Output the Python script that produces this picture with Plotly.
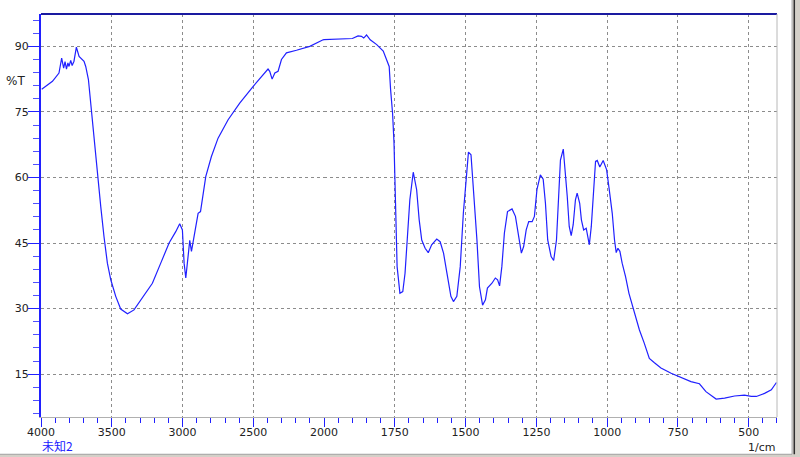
import plotly.graph_objects as go

# wavenumber (1/cm) and transmittance (%T)
wavenumber = [3995, 3919, 3873, 3854, 3840, 3830, 3820, 3810, 3802, 3790, 3780, 3767, 3750, 3731,
              3696, 3684, 3665, 3654, 3637, 3618, 3601, 3578, 3555, 3531, 3507, 3472, 3437, 3389,
              3343, 3283, 3213, 3154, 3095, 3048, 3020, 3001, 2989, 2977, 2961, 2949, 2937, 2914,
              2890, 2873, 2855, 2836, 2796, 2749, 2678, 2596, 2502, 2442, 2396, 2384, 2367, 2348,
              2325, 2301, 2266, 2195, 2101, 2007, 1933, 1900, 1880, 1868, 1860, 1850, 1837, 1814,
              1791, 1779, 1770, 1765, 1758, 1753, 1750, 1746, 1742, 1732, 1722, 1714, 1706, 1697,
              1685, 1673, 1664, 1655, 1643, 1632, 1620, 1602, 1590, 1578, 1566, 1552, 1543, 1531,
              1519, 1508, 1498, 1490, 1481, 1472, 1460, 1451, 1440, 1430, 1423, 1407, 1395, 1387,
              1380, 1372, 1363, 1352, 1336, 1324, 1312, 1303, 1295, 1286, 1277, 1265, 1257, 1248,
              1236, 1226, 1218, 1210, 1198, 1189, 1179, 1171, 1165, 1155, 1151, 1141, 1134, 1127,
              1120, 1112, 1106, 1097, 1091, 1083, 1074, 1069, 1063, 1056, 1049, 1041, 1035, 1026,
              1014, 1002, 994, 982, 974, 968, 962, 955, 947, 935, 923, 904, 886, 869, 851, 833,
              810, 774, 745, 704, 674, 651, 615, 585, 550, 515, 491, 473, 444, 420, 402]
transmittance = [80.2, 82.0, 83.9, 87.3, 85.0, 86.5, 84.8, 86.2, 85.4, 86.8, 85.6, 86.6, 89.8, 87.7,
                 86.6, 85.4, 82.4, 78.6, 72.5, 66.3, 60.0, 53.4, 46.5, 40.4, 36.6, 32.8, 29.9, 28.8,
                 29.7, 32.4, 35.8, 40.4, 45.0, 47.6, 49.4, 48.0, 40.4, 37.0, 41.9, 45.6, 43.1, 47.3,
                 51.8, 52.2, 56.4, 60.2, 64.8, 69.0, 73.2, 77.0, 80.8, 83.1, 84.8, 84.3, 82.5, 83.9,
                 84.3, 87.0, 88.5, 89.1, 90.0, 91.5, 91.7, 91.8, 92.4, 92.3, 91.9, 92.6, 91.5, 90.4,
                 88.9, 86.6, 85.4, 80.1, 74.7, 68.0, 58.0, 53.4, 39.6, 33.5, 33.9, 38.1, 45.7, 54.9,
                 61.2, 57.2, 50.3, 45.7, 43.8, 42.8, 44.6, 45.9, 45.3, 42.7, 38.1, 32.8, 31.6, 32.8,
                 39.6, 51.8, 59.5, 65.8, 65.2, 57.2, 45.7, 35.0, 30.8, 32.0, 34.7, 35.8, 37.0, 36.6,
                 35.2, 39.6, 47.3, 52.2, 52.8, 51.1, 45.7, 42.7, 44.2, 48.0, 49.9, 49.9, 51.1, 57.2,
                 60.6, 59.6, 54.1, 45.7, 41.9, 41.0, 45.7, 54.9, 64.0, 66.5, 63.7, 55.7, 48.8, 46.7,
                 49.2, 54.9, 56.4, 54.1, 50.3, 48.0, 48.4, 46.9, 44.6, 48.8, 57.2, 63.7, 63.9, 62.4,
                 63.9, 61.8, 57.9, 51.8, 45.7, 42.8, 43.8, 43.1, 40.4, 37.3, 33.5, 28.9, 25.1, 22.1,
                 18.6, 17.6, 16.4, 15.2, 14.4, 13.3, 12.8, 11.0, 9.3, 9.5, 10.0, 10.2, 9.9, 9.9,
                 10.6, 11.4, 13.1]

y_ticks = [15, 30, 45, 60, 75, 90]
x_ticks_left = [4000, 3500, 3000, 2500, 2000]
x_ticks_right = [1750, 1500, 1250, 1000, 750, 500]

split = 2000
# left panel (4000-2000) gets points >= split plus one neighbour; right panel the rest plus one neighbour
idx_left = [i for i, w in enumerate(wavenumber) if w >= split]
idx_right = [i for i, w in enumerate(wavenumber) if w < split]
idx_left = idx_left + [idx_right[0]]
idx_right = [idx_left[-2]] + idx_right

line_style = dict(color="#2020ff", width=1.2)
fig = go.Figure()
fig.add_trace(go.Scatter(x=[wavenumber[i] for i in idx_left], y=[transmittance[i] for i in idx_left],
                         mode="lines", line=line_style, xaxis="x", yaxis="y", showlegend=False))
fig.add_trace(go.Scatter(x=[wavenumber[i] for i in idx_right], y=[transmittance[i] for i in idx_right],
                         mode="lines", line=line_style, xaxis="x2", yaxis="y", showlegend=False))

font = dict(family="DejaVu Sans", size=11, color="#222222")
grid = dict(showgrid=True, gridcolor="#8c8c8c", gridwidth=1, griddash="3px,3px")
frac = 1000 / 2600

fig.update_layout(
    width=800, height=457,
    margin=dict(l=41, r=23, t=14, b=40, autoexpand=False),
    paper_bgcolor="white", plot_bgcolor="white",
    font=font,
    xaxis=dict(domain=[0, frac], range=[4000, 2000], tickvals=x_ticks_left,
               ticks="outside", ticklen=9, tickcolor="#2020ff", tickwidth=1,
               minor=dict(dtick=100, ticks="outside", ticklen=5, tickcolor="#2020ff", showgrid=False),
               showline=True, linecolor="#b0b0b0", linewidth=1, zeroline=False, automargin=False,
               anchor="y", tickfont=font, ticklabelstandoff=-4, **grid),
    xaxis2=dict(domain=[frac, 1], range=[2000, 400], tickvals=x_ticks_right,
                ticks="outside", ticklen=9, tickcolor="#2020ff", tickwidth=1,
                minor=dict(dtick=50, tick0=0, ticks="outside", ticklen=5, tickcolor="#2020ff", showgrid=False),
                showline=True, linecolor="#b0b0b0", linewidth=1, zeroline=False, automargin=False,
                anchor="y", tickfont=font, ticklabelstandoff=-4, **grid),
    yaxis=dict(range=[5.2, 97.4], tickvals=y_ticks, ticks="outside", ticklen=11,
               tickcolor="#2020ff", tickwidth=1,
               minor=dict(dtick=3, tick0=0, ticks="outside", ticklen=6, tickcolor="#5050ff", showgrid=False),
               showline=True, linecolor="#2020ff", linewidth=2, zeroline=False, automargin=False,
               tickfont=font, ticklabelstandoff=-3, **grid),
    shapes=[
        dict(type="line", xref="paper", yref="paper", x0=0, x1=1, y0=1, y1=1,
             line=dict(color="#1a1aa0", width=2)),
        dict(type="line", xref="paper", yref="paper", x0=1, x1=1, y0=0, y1=1,
             line=dict(color="#b8b8b8", width=1)),
        # window frame
        dict(type="rect", xref="paper", yref="paper", x0=1.0210, x1=1.04, y0=-0.2, y1=1.1,
             fillcolor="#d4d0c8", line=dict(width=0), layer="below"),
        dict(type="rect", xref="paper", yref="paper", x0=-0.1, x1=1.04, y0=-0.2, y1=-0.0925,
             fillcolor="#d4d0c8", line=dict(width=0), layer="below"),
        dict(type="line", xref="paper", yref="paper", x0=1.0205, x1=1.0205, y0=-0.0925, y1=1.1,
             line=dict(color="#a0a0a0", width=1)),
        dict(type="line", xref="paper", yref="paper", x0=1.0235, x1=1.0235, y0=-0.0925, y1=1.1,
             line=dict(color="#303030", width=1.5)),
        dict(type="line", xref="paper", yref="paper", x0=-0.1, x1=1.0205, y0=-0.0925, y1=-0.0925,
             line=dict(color="#a0a0a0", width=1)),
    ],
    annotations=[
        dict(text="%T", xref="paper", yref="paper", x=-0.0195, y=0.834, xanchor="right",
             yanchor="middle", showarrow=False, font=dict(family="DejaVu Sans", size=12, color="#222222")),
        dict(text="1/cm", xref="paper", yref="paper", x=1.0, y=-0.075, xanchor="right",
             yanchor="middle", showarrow=False, font=font),
        dict(text="未知2", xref="paper", yref="paper", x=-0.002, y=-0.071, xanchor="left",
             yanchor="middle", showarrow=False,
             font=dict(family="Noto Sans CJK SC", size=12, color="#2020ff")),
    ],
)

fig.write_html("out.html", config={"displayModeBar": False},
               post_script="document.body.style.margin='0';document.body.style.overflow='hidden';")
